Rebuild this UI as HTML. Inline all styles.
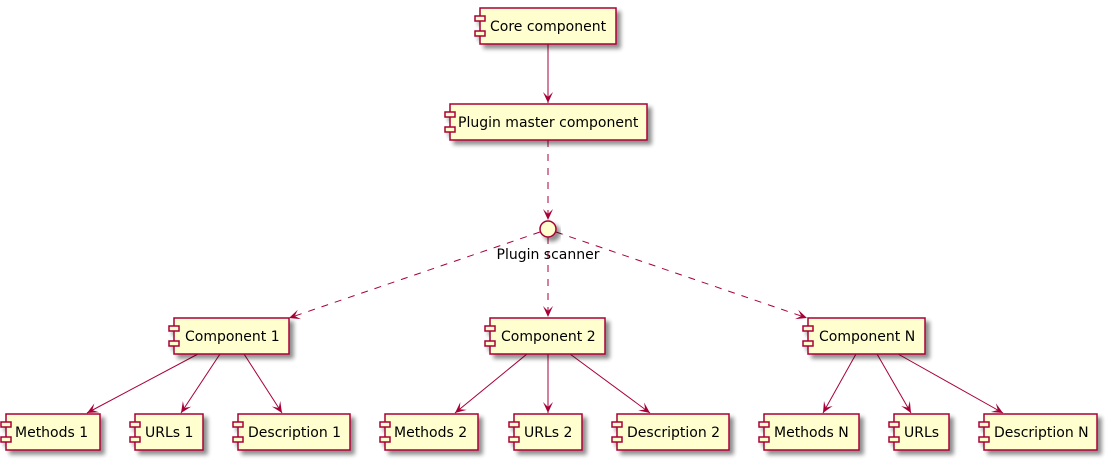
<!DOCTYPE html>
<html><head><meta charset="utf-8"><style>
html,body{margin:0;padding:0;background:#fff;}
svg{display:block;}
text{font-family:"DejaVu Sans","Liberation Sans",sans-serif;font-size:14px;fill:#000;}
.b rect{fill:#FEFECE;stroke:#A80036;stroke-width:1.5;}
</style></head><body>
<svg width="1107" height="460" viewBox="0 0 1107 460" xmlns="http://www.w3.org/2000/svg">
<defs>
<filter id="sh" x="-20%" y="-20%" width="150%" height="170%">
<feGaussianBlur in="SourceAlpha" stdDeviation="2"/>
<feOffset dx="4" dy="4" result="b"/>
<feComponentTransfer><feFuncA type="linear" slope="0.45"/></feComponentTransfer>
<feMerge><feMergeNode/><feMergeNode in="SourceGraphic"/></feMerge>
</filter>
<marker id="ar" markerWidth="14" markerHeight="12" refX="11" refY="6" orient="auto" markerUnits="userSpaceOnUse">
<path d="M0,1 L11,6 L0,11 L5,6 Z" fill="#A80036"/>
</marker>
</defs>
<g stroke="#A80036" stroke-width="1" fill="none">
<line x1="548" y1="44" x2="548" y2="103" marker-end="url(#ar)"/>
<g stroke-dasharray="7,7">
<line x1="548" y1="140" x2="548" y2="220" marker-end="url(#ar)"/>
<line x1="540" y1="232" x2="289" y2="318" marker-end="url(#ar)"/>
<line x1="548" y1="237" x2="548" y2="317" marker-end="url(#ar)"/>
<line x1="556" y1="232" x2="807" y2="318" marker-end="url(#ar)"/>
</g>
<line x1="198" y1="354" x2="87" y2="413" marker-end="url(#ar)"/>
<line x1="220" y1="354" x2="181" y2="413" marker-end="url(#ar)"/>
<line x1="244" y1="354" x2="282" y2="413" marker-end="url(#ar)"/>
<line x1="527" y1="354" x2="455" y2="413" marker-end="url(#ar)"/>
<line x1="548" y1="354" x2="548" y2="413" marker-end="url(#ar)"/>
<line x1="570" y1="354" x2="650" y2="413" marker-end="url(#ar)"/>
<line x1="856" y1="354" x2="823" y2="413" marker-end="url(#ar)"/>
<line x1="877" y1="354" x2="911" y2="413" marker-end="url(#ar)"/>
<line x1="898" y1="354" x2="1003" y2="413" marker-end="url(#ar)"/>
</g>
<circle cx="548" cy="229" r="8" fill="#FEFECE" stroke="#A80036" stroke-width="1.5" filter="url(#sh)"/>
<text x="548" y="259" text-anchor="middle">Plugin scanner</text>

<g class="b" filter="url(#sh)">
<rect x="480" y="8" width="136" height="36"/><rect x="475" y="16" width="10" height="5"/><rect x="475" y="31" width="10" height="5"/>
<rect x="450" y="104" width="197" height="36"/><rect x="445" y="112" width="10" height="5"/><rect x="445" y="127" width="10" height="5"/>
<rect x="174" y="318" width="115" height="36"/><rect x="169" y="326" width="10" height="5"/><rect x="169" y="341" width="10" height="5"/>
<rect x="490" y="318" width="115" height="36"/><rect x="485" y="326" width="10" height="5"/><rect x="485" y="341" width="10" height="5"/>
<rect x="808" y="318" width="117" height="36"/><rect x="803" y="326" width="10" height="5"/><rect x="803" y="341" width="10" height="5"/>
<rect x="6" y="414" width="94" height="36"/><rect x="1" y="422" width="10" height="5"/><rect x="1" y="437" width="10" height="5"/>
<rect x="135" y="414" width="68" height="36"/><rect x="130" y="422" width="10" height="5"/><rect x="130" y="437" width="10" height="5"/>
<rect x="238" y="414" width="112" height="36"/><rect x="233" y="422" width="10" height="5"/><rect x="233" y="437" width="10" height="5"/>
<rect x="385" y="414" width="93" height="36"/><rect x="380" y="422" width="10" height="5"/><rect x="380" y="437" width="10" height="5"/>
<rect x="514" y="414" width="68" height="36"/><rect x="509" y="422" width="10" height="5"/><rect x="509" y="437" width="10" height="5"/>
<rect x="617" y="414" width="112" height="36"/><rect x="612" y="422" width="10" height="5"/><rect x="612" y="437" width="10" height="5"/>
<rect x="764" y="414" width="95" height="36"/><rect x="759" y="422" width="10" height="5"/><rect x="759" y="437" width="10" height="5"/>
<rect x="894" y="414" width="55" height="36"/><rect x="889" y="422" width="10" height="5"/><rect x="889" y="437" width="10" height="5"/>
<rect x="984" y="414" width="113" height="36"/><rect x="979" y="422" width="10" height="5"/><rect x="979" y="437" width="10" height="5"/>
</g>
<g>
<text x="490" y="31">Core component</text>
<text x="458" y="127">Plugin master component</text>
<text x="185" y="341">Component 1</text>
<text x="501" y="341">Component 2</text>
<text x="819" y="341">Component N</text>
<text x="15" y="437">Methods 1</text>
<text x="145" y="437">URLs 1</text>
<text x="248" y="437">Description 1</text>
<text x="394" y="437">Methods 2</text>
<text x="524" y="437">URLs 2</text>
<text x="627" y="437">Description 2</text>
<text x="774" y="437">Methods N</text>
<text x="904" y="437">URLs</text>
<text x="994" y="437">Description N</text>
</g>
</svg>
</body></html>
